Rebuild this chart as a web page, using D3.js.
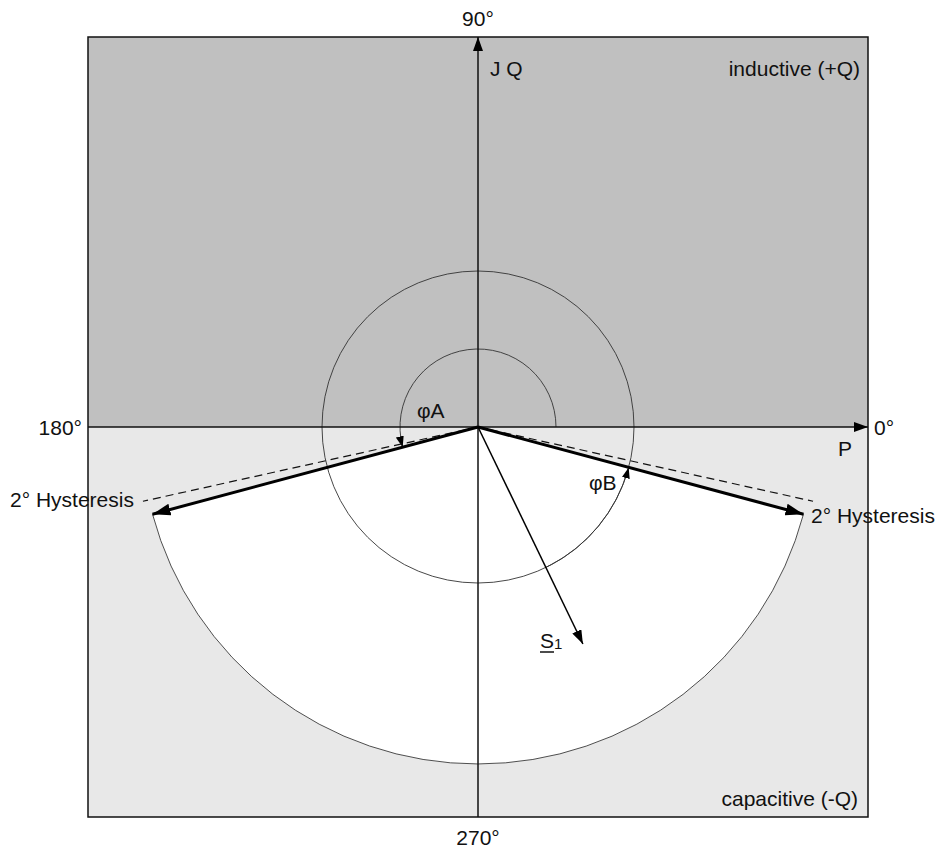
<!DOCTYPE html>
<html><head><meta charset="utf-8">
<script src="https://cdn.jsdelivr.net/npm/d3@7"></script>
<style>body{margin:0;background:#fff}svg{display:block}text{font-family:"Liberation Sans",Arial,sans-serif;font-size:21px;fill:#111}</style>
</head><body>
<script>
// data (normalized: square frame spans -1..1)
const sectorRadius = 0.864;
const limitAngles = [-15, -165];          // thick arrows (deg)
const hysteresisAngles = [-12.5, -167.5]; // dashed lines (deg)
const hysteresisLength = 0.88;
const circleRadii = [0.2, 0.4];           // phi A / phi B circles
const phiAArc = [0, 195];                 // deg on small circle
const phiBArc = [-64, -15];               // deg on large circle
const s1 = {angle: -64.2, length: 0.618};
const axisLabels = ["0°", "90°", "180°", "270°"];
const quadrantLabels = ["inductive (+Q)", "capacitive (-Q)"];

const W = 940, H = 851;
const svg = d3.select("body").append("svg").attr("width", W).attr("height", H);
const x = d3.scaleLinear().domain([-1, 1]).range([88, 868]);
const y = d3.scaleLinear().domain([-1, 1]).range([817, 37]);
const rad = d => d * Math.PI / 180;
const px = (r, a) => x(r * Math.cos(rad(a)));
const py = (r, a) => y(r * Math.sin(rad(a)));
const R = r => x(r) - x(0);

const defs = svg.append("defs");
function marker(id, len, wid) {
  defs.append("marker").attr("id", id).attr("viewBox", `0 0 ${len} ${wid}`)
    .attr("refX", len).attr("refY", wid / 2).attr("markerWidth", len).attr("markerHeight", wid)
    .attr("markerUnits", "userSpaceOnUse").attr("orient", "auto")
    .append("path").attr("d", `M0,0L${len},${wid / 2}L0,${wid}Z`).attr("fill", "#000");
}
marker("big", 18, 12);
marker("mid", 14, 10);
marker("small", 11, 8);

// backgrounds
svg.append("rect").attr("x", x(-1)).attr("y", y(1)).attr("width", x(1) - x(-1)).attr("height", y(0) - y(1)).attr("fill", "#c0c0c0");
svg.append("rect").attr("x", x(-1)).attr("y", y(0)).attr("width", x(1) - x(-1)).attr("height", y(-1) - y(0)).attr("fill", "#e8e8e8");

// white sector
const arcGen = d3.arc().innerRadius(0).outerRadius(R(sectorRadius))
  .startAngle(rad(90 - limitAngles[0])).endAngle(rad(90 - limitAngles[1]));
svg.append("path").attr("d", arcGen()).attr("transform", `translate(${x(0)},${y(0)})`)
  .attr("fill", "#fff").attr("stroke", "#222").attr("stroke-width", 0.8);

// frame
svg.append("rect").attr("x", x(-1)).attr("y", y(1)).attr("width", x(1) - x(-1)).attr("height", y(-1) - y(1))
  .attr("fill", "none").attr("stroke", "#111").attr("stroke-width", 1.5);

// circles
svg.append("circle").attr("cx", x(0)).attr("cy", y(0)).attr("r", R(circleRadii[1]))
  .attr("fill", "none").attr("stroke", "#333").attr("stroke-width", 0.9);
function arcPath(r, a0, a1) {
  const p = d3.path();
  p.arc(x(0), y(0), R(r), -rad(a0), -rad(a1), true);
  return p.toString();
}
svg.append("path").attr("d", arcPath(circleRadii[0], phiAArc[0], phiAArc[1]))
  .attr("fill", "none").attr("stroke", "#333").attr("stroke-width", 0.9).attr("marker-end", "url(#small)");
svg.append("path").attr("d", arcPath(circleRadii[1], phiBArc[0], phiBArc[1]))
  .attr("fill", "none").attr("stroke", "#333").attr("stroke-width", 0.9).attr("marker-end", "url(#small)");

// axes
svg.append("line").attr("x1", x(-1)).attr("y1", y(0)).attr("x2", x(1)).attr("y2", y(0))
  .attr("stroke", "#111").attr("stroke-width", 1.5).attr("marker-end", "url(#mid)");
svg.append("line").attr("x1", x(0)).attr("y1", y(-1)).attr("x2", x(0)).attr("y2", y(1))
  .attr("stroke", "#111").attr("stroke-width", 1.5).attr("marker-end", "url(#mid)");

// hysteresis dashed
hysteresisAngles.forEach(a => {
  svg.append("line").attr("x1", x(0)).attr("y1", y(0)).attr("x2", px(hysteresisLength, a)).attr("y2", py(hysteresisLength, a))
    .attr("stroke", "#111").attr("stroke-width", 1.2).attr("stroke-dasharray", "8,5");
});
// thick limit arrows
limitAngles.forEach(a => {
  svg.append("line").attr("x1", x(0)).attr("y1", y(0)).attr("x2", px(sectorRadius, a)).attr("y2", py(sectorRadius, a))
    .attr("stroke", "#000").attr("stroke-width", 3).attr("marker-end", "url(#big)");
});
// S1
svg.append("line").attr("x1", x(0)).attr("y1", y(0)).attr("x2", px(s1.length, s1.angle)).attr("y2", py(s1.length, s1.angle))
  .attr("stroke", "#000").attr("stroke-width", 1.5).attr("marker-end", "url(#mid)");

// text
const T = (t, xx, yy, anchor) => svg.append("text").attr("x", xx).attr("y", yy).attr("text-anchor", anchor || "start").text(t);
T(axisLabels[1], x(0), 26, "middle");
T(axisLabels[3], x(0), 845, "middle");
T(axisLabels[2], 82, 435, "end");
T(axisLabels[0], 874, 435);
T("J Q", 490, 76);
T("P", 838, 456);
T(quadrantLabels[0], 860, 76, "end");
T(quadrantLabels[1], 858, 806, "end");
T("2° Hysteresis", 10, 507);
T("2° Hysteresis", 811, 523);
T("φA", 417, 418);
T("φB", 589, 490);
const s = svg.append("text").attr("x", 540).attr("y", 648);
s.append("tspan").text("S");
s.append("tspan").attr("font-size", 15).attr("dy", 1).text("1");
svg.append("line").attr("x1", 540).attr("x2", 554).attr("y1", 652).attr("y2", 652).attr("stroke", "#111").attr("stroke-width", 1.5);
</script>
</body></html>
